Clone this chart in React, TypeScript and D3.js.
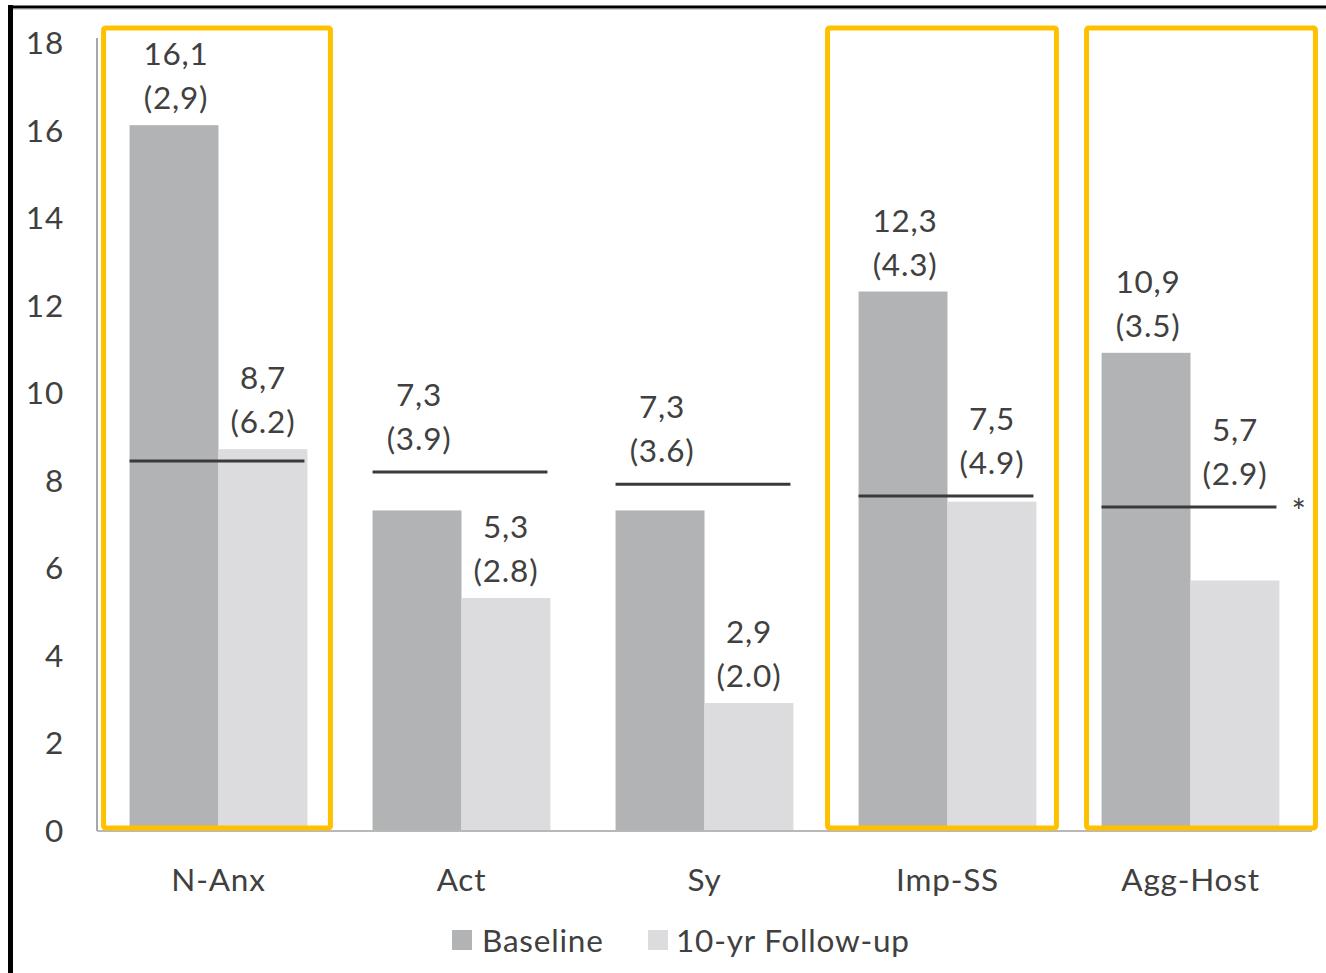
import React from "react";
import * as d3 from "d3";

const categories = ["N-Anx", "Act", "Sy", "Imp-SS", "Agg-Host"];
const baseline = [16.1, 7.3, 7.3, 12.3, 10.9];
const followUp = [8.7, 5.3, 2.9, 7.5, 5.7];
const baselineLabels = ["16,1", "7,3", "7,3", "12,3", "10,9"];
const baselineSD = ["(2,9)", "(3.9)", "(3.6)", "(4.3)", "(3.5)"];
const followLabels = ["8,7", "5,3", "2,9", "7,5", "5,7"];
const followSD = ["(6.2)", "(2.8)", "(2.0)", "(4.9)", "(2.9)"];
const refValues = [8.43, 8.18, 7.9, 7.63, 7.38];
const highlighted = ["N-Anx", "Imp-SS", "Agg-Host"];
const yTicks = [0, 2, 4, 6, 8, 10, 12, 14, 16, 18];
const seriesNames = ["Baseline", "10-yr Follow-up"];

const W = 1326;
const H = 973;
const FONT = "Lato, 'Open Sans', sans-serif";
const TEXT = "#404040";
const C_BASE = "#b2b3b5";
const C_FOLLOW = "#dcdcde";
const YELLOW = "#FFC000";
const FS = 31.5;
// box padding (left, right) around each highlighted bar pair
const BOX_PAD: Record<string, [number, number]> = {
  "N-Anx": [26, 23],
  "Imp-SS": [31, 20],
  "Agg-Host": [15, 36],
};

export default function App() {
  const x0 = 97;
  const x1 = 1312;
  const yBottom = 830;
  const yTop = 42;
  const x = d3.scaleBand<string>().domain(categories).range([x0, x1]).paddingInner(0.268).paddingOuter(0.134);
  const y = d3.scaleLinear().domain([0, 18]).range([yBottom, yTop]);
  const bw = x.bandwidth() / 2;

  const labelY = (i: number, v: number) => {
    const barTop = y(v);
    const lineY = y(refValues[i]);
    const d = barTop - lineY;
    if (d >= 0 && d < 90) return lineY - 34;
    return barTop - 28;
  };

  return (
    <svg
      width={W}
      height={H}
      style={{ position: "absolute", left: 0, top: 0, background: "#fff" }}
      fontFamily={FONT}
      letterSpacing={0.8}
    >
      <rect x={0} y={0} width={W} height={H} fill="#fff" />
      {/* frame */}
      <line x1={10.5} x2={10.5} y1={5} y2={H} stroke="#000" strokeWidth={5} />
      <line x1={8} x2={W} y1={7} y2={7} stroke="#000" strokeWidth={3} />
      <line x1={13} x2={W} y1={9.5} y2={9.5} stroke="#d0d0d0" strokeWidth={1} />

      {/* axes */}
      <line x1={x0} x2={x0} y1={y(18) - 4} y2={yBottom + 1} stroke="#a8a8a8" strokeWidth={2} />
      <line x1={x0} x2={x1} y1={yBottom + 1} y2={yBottom + 1} stroke="#b8b8b8" strokeWidth={2} />
      {yTicks.map((t) => (
        <text
          key={t}
          x={64}
          y={y(t)}
          textAnchor="end"
          dominantBaseline="central"
          fontSize={FS}
          fill={TEXT}
        >
          {t}
        </text>
      ))}

      {/* bars */}
      {categories.map((c, i) => {
        const bx = x(c)!;
        return (
          <g key={c}>
            <rect x={bx} y={y(baseline[i])} width={bw} height={yBottom - y(baseline[i])} fill={C_BASE} />
            <rect x={bx + bw} y={y(followUp[i])} width={bw} height={yBottom - y(followUp[i])} fill={C_FOLLOW} />
          </g>
        );
      })}

      {/* reference lines */}
      {categories.map((c, i) => {
        const bx = x(c)!;
        return (
          <line
            key={"r" + c}
            x1={bx}
            x2={bx + 2 * bw - 3}
            y1={y(refValues[i])}
            y2={y(refValues[i])}
            stroke="#3a3a3a"
            strokeWidth={3}
          />
        );
      })}
      <text x={1299} y={y(refValues[4]) + 17} textAnchor="middle" fontSize={34} fill={TEXT}>
        *
      </text>

      {/* value labels */}
      {categories.map((c, i) => {
        const bx = x(c)!;
        const ly0 = labelY(i, baseline[i]);
        const ly1 = labelY(i, followUp[i]);
        return (
          <g key={"l" + c} fontSize={FS} fill={TEXT} textAnchor="middle">
            <text x={bx + bw / 2 + 2} y={ly0 - 44} dominantBaseline="central">{baselineLabels[i]}</text>
            <text x={bx + bw / 2 + 2} y={ly0} dominantBaseline="central">{baselineSD[i]}</text>
            <text x={bx + bw * 1.5} y={ly1 - 44} dominantBaseline="central">{followLabels[i]}</text>
            <text x={bx + bw * 1.5} y={ly1} dominantBaseline="central">{followSD[i]}</text>
          </g>
        );
      })}

      {/* highlight boxes */}
      {categories.map((c) => {
        if (!highlighted.includes(c)) return null;
        const bx = x(c)!;
        const [pl, pr] = BOX_PAD[c];
        const left = bx - pl;
        const right = bx + 2 * bw + pr;
        return (
          <rect
            key={"h" + c}
            x={left}
            y={28}
            width={right - left}
            height={yBottom - 2 - 28}
            fill="none"
            stroke={YELLOW}
            strokeWidth={5}
            rx={2}
          />
        );
      })}

      {/* category labels */}
      {categories.map((c) => (
        <text
          key={"c" + c}
          x={x(c)! + bw}
          y={879}
          textAnchor="middle"
          dominantBaseline="central"
          fontSize={FS}
          fill={TEXT}
        >
          {c}
        </text>
      ))}

      {/* legend */}
      <rect x={452} y={930} width={20} height={20} fill={C_BASE} />
      <text x={482} y={940} dominantBaseline="central" fontSize={FS} fill={TEXT}>
        {seriesNames[0]}
      </text>
      <rect x={648} y={930} width={20} height={20} fill={C_FOLLOW} />
      <text x={676} y={940} dominantBaseline="central" fontSize={FS} fill={TEXT}>
        {seriesNames[1]}
      </text>
    </svg>
  );
}
